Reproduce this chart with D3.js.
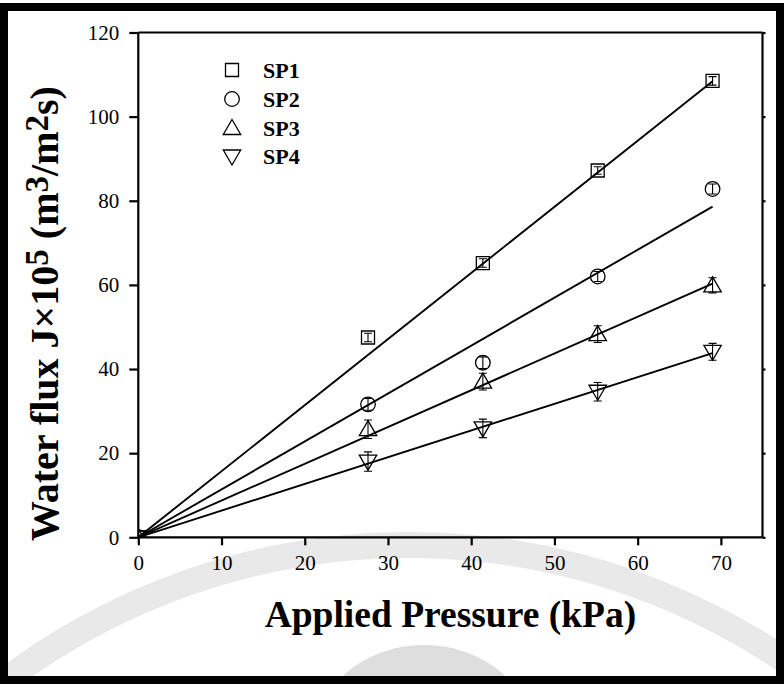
<!DOCTYPE html>
<html>
<head>
<meta charset="utf-8">
<script src="https://cdn.jsdelivr.net/npm/d3@7/dist/d3.min.js"></script>
<style>
  html, body { margin: 0; padding: 0; background: #ffffff; }
  svg { display: block; }
</style>
</head>
<body>
<svg id="chart" width="784" height="684"></svg>
<script>
// Applied pressure (kPa) for every membrane run, including the origin
const pressure = [0, 27.6, 41.4, 55.2, 69.0];
const seriesNames = ["SP1", "SP2", "SP3", "SP4"];
// Water flux J x 10^5 (m3/m2 s)
const fluxSP1 = [0, 47.5, 65.2, 87.2, 108.5];
const fluxSP2 = [0, 31.6, 41.5, 62.0, 82.8];
const fluxSP3 = [0, 25.7, 37.0, 48.3, 59.9];
const fluxSP4 = [0, 18.0, 25.9, 34.6, 44.1];
// Standard deviations of the flux readings
const errSP1 = [0, 1.0, 1.0, 0.9, 1.0];
const errSP2 = [0, 1.4, 1.4, 1.2, 1.2];
const errSP3 = [0, 2.2, 2.0, 2.0, 1.8];
const errSP4 = [0, 2.3, 2.2, 2.2, 2.0];
// Linear fits through the origin, value at the last pressure
const fitPressure = [0, 69.0];
const fitSP1 = [0, 108.4];
const fitSP2 = [0, 78.6];
const fitSP3 = [0, 60.3];
const fitSP4 = [0, 43.8];
const xTicks = [0, 10, 20, 30, 40, 50, 60, 70];
const yTicks = [0, 20, 40, 60, 80, 100, 120];

const series = [
  { name: seriesNames[0], y: fluxSP1, err: errSP1, fit: fitSP1, shape: "square" },
  { name: seriesNames[1], y: fluxSP2, err: errSP2, fit: fitSP2, shape: "circle" },
  { name: seriesNames[2], y: fluxSP3, err: errSP3, fit: fitSP3, shape: "up" },
  { name: seriesNames[3], y: fluxSP4, err: errSP4, fit: fitSP4, shape: "down" }
];

const svg = d3.select("#chart");
const serif = "'Liberation Serif', 'Times New Roman', serif";

const plotLeft = 138.3, plotRight = 762.5, plotTop = 32.5, plotBottom = 537.3;
const x = d3.scaleLinear().domain([0, 75]).range([plotLeft, plotRight]);
const y = d3.scaleLinear().domain([0, 120]).range([plotBottom, plotTop]);

// faint background emblem
const emblem = svg.append("g").attr("class", "emblem");
emblem.append("circle")
  .attr("cx", 409).attr("cy", 1214).attr("r", 669)
  .attr("fill", "none").attr("stroke", "#e9e9e9").attr("stroke-width", 26);
emblem.append("ellipse")
  .attr("cx", 424).attr("cy", 740).attr("rx", 110).attr("ry", 95)
  .attr("fill", "#dedede");

// clip region for the plot area
svg.append("defs").append("clipPath").attr("id", "plotClip")
  .append("rect").attr("x", plotLeft).attr("y", plotTop)
  .attr("width", plotRight - plotLeft).attr("height", plotBottom - plotTop);

// axes
const xAxis = d3.axisBottom(x).tickValues(xTicks).tickSize(8).tickPadding(10)
  .tickFormat(d3.format("d"));
const yAxis = d3.axisLeft(y).tickValues(yTicks).tickSize(9).tickPadding(10)
  .tickFormat(d3.format("d"));
const yAxisR = d3.axisRight(y).tickValues(yTicks).tickSize(3).tickFormat("");
const xAxisT = d3.axisTop(x).tickValues([]).tickSize(0);

function styleAxis(g) {
  g.select(".domain").attr("stroke", "#000").attr("stroke-width", 2.2);
  g.selectAll(".tick line").attr("stroke", "#000").attr("stroke-width", 2.2);
  g.selectAll(".tick text").attr("fill", "#000")
    .style("font-family", serif).style("font-size", "21px");
}

svg.append("g").attr("transform", `translate(0,${plotBottom})`).call(xAxis).call(styleAxis)
  .call(g => g.select(".domain").attr("d", `M${plotLeft},0H${plotRight}`));
svg.append("g").attr("transform", `translate(${plotLeft},0)`).call(yAxis).call(styleAxis)
  .call(g => g.select(".domain").attr("d", `M0,${plotTop}V${plotBottom}`));
svg.append("g").attr("transform", `translate(${plotRight},0)`).call(yAxisR).call(styleAxis)
  .call(g => g.select(".domain").attr("d", `M0,${plotTop}V${plotBottom}`));
svg.append("g").attr("transform", `translate(0,${plotTop})`).call(xAxisT).call(styleAxis)
  .call(g => g.select(".domain").attr("d", `M${plotLeft},0H${plotRight}`));

// marker shapes
function markerPath(shape) {
  if (shape === "square") return "M-6.5,-6.5H6.5V6.5H-6.5Z";
  if (shape === "circle") return "M7.3,0A7.3,7.3 0 1,1 -7.3,0A7.3,7.3 0 1,1 7.3,0Z";
  if (shape === "up") return "M0,-8.5L8.7,6.5H-8.7Z";
  return "M0,8.5L8.7,-6.5H-8.7Z";
}

const plot = svg.append("g").attr("clip-path", "url(#plotClip)");

// fitted lines
const line = d3.line().x((d, i) => x(fitPressure[i])).y(d => y(d));
series.forEach(s => {
  plot.append("path").datum(s.fit)
    .attr("d", line)
    .attr("fill", "none").attr("stroke", "#000").attr("stroke-width", 1.9);
});

// markers with error bars
series.forEach(s => {
  const g = plot.append("g");
  const pts = pressure.map((p, i) => ({ p, v: s.y[i], e: s.err[i] }));
  const cap = 4;
  pts.forEach(d => {
    const cx = x(d.p), yt = y(d.v + d.e), yb = y(d.v - d.e);
    if (d.e > 0) {
      g.append("path")
        .attr("d", `M${cx},${yt}V${yb}M${cx - cap},${yt}H${cx + cap}M${cx - cap},${yb}H${cx + cap}`)
        .attr("stroke", "#000").attr("stroke-width", 1.1).attr("fill", "none");
    }
    g.append("path")
      .attr("transform", `translate(${cx},${y(d.v)})`)
      .attr("d", markerPath(s.shape))
      .attr("fill", "none").attr("stroke", "#000").attr("stroke-width", 1.3);
  });
});

// legend
const legendY = [70, 99, 128, 156.5];
series.forEach((s, i) => {
  svg.append("path")
    .attr("transform", `translate(232,${legendY[i]})`)
    .attr("d", markerPath(s.shape))
    .attr("fill", "none").attr("stroke", "#000").attr("stroke-width", 1.3);
  svg.append("text")
    .attr("x", 263).attr("y", legendY[i] + 7.5)
    .style("font-family", serif).style("font-size", "22px").style("font-weight", "bold")
    .text(s.name);
});

// axis titles
svg.append("text")
  .attr("x", (plotLeft + plotRight) / 2).attr("y", 627)
  .attr("text-anchor", "middle")
  .style("font-family", serif).style("font-size", "37.5px").style("font-weight", "bold")
  .text("Applied Pressure (kPa)");

const yTitle = svg.append("text")
  .attr("transform", "translate(58,541) rotate(-90)")
  .attr("text-anchor", "start")
  .style("font-family", serif).style("font-size", "40px").style("font-weight", "bold");
const supSize = "33px", supRaise = 10;
yTitle.append("tspan").text("Water flux J\u00d710");
yTitle.append("tspan").attr("dy", -supRaise).style("font-size", supSize).text("5");
yTitle.append("tspan").attr("dy", supRaise).text(" (m");
yTitle.append("tspan").attr("dy", -supRaise).style("font-size", supSize).text("3");
yTitle.append("tspan").attr("dy", supRaise).text("/m");
yTitle.append("tspan").attr("dy", -supRaise).style("font-size", supSize).text("2");
yTitle.append("tspan").attr("dy", supRaise).text("s)");

// outer frame
svg.append("rect")
  .attr("x", 4).attr("y", 7).attr("width", 776).attr("height", 673)
  .attr("fill", "none").attr("stroke", "#000").attr("stroke-width", 8);
</script>
</body>
</html>
